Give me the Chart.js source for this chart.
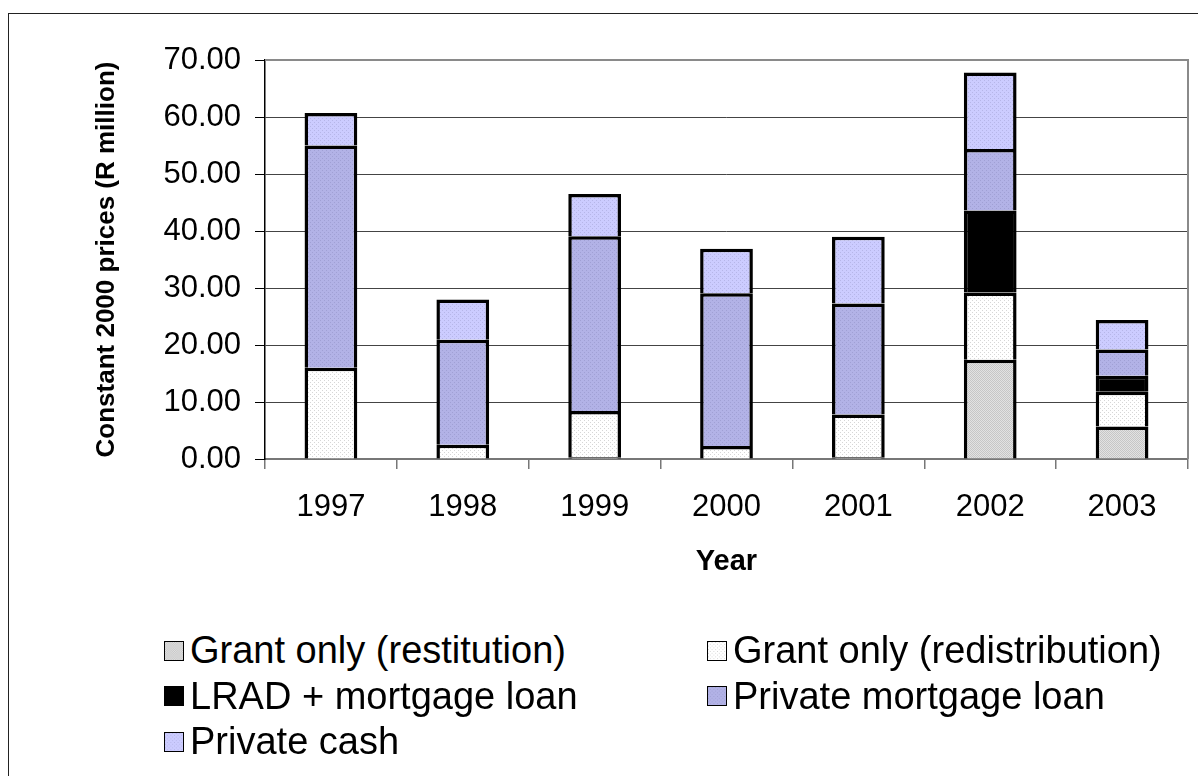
<!DOCTYPE html>
<html>
<head>
<meta charset="utf-8">
<script src="https://cdn.jsdelivr.net/npm/chart.js@4/dist/chart.umd.min.js"></script>
<style>
  html, body { margin: 0; padding: 0; background: #fff; overflow: hidden; }
  body { width: 1198px; height: 776px; position: relative; font-family: "Liberation Sans", Arial, sans-serif; }
  #frame { position: absolute; left: 8px; top: 13px; width: 1220px; height: 800px; border: 1.5px solid #222; box-sizing: border-box; }
  #wrap { position: absolute; left: 0; top: 0; width: 1198px; height: 600px; }
  #legend { position: absolute; left: 164px; top: 628px; display: grid; grid-template-columns: 543px 460px; font-size: 38px; line-height: 45.5px; color: #000; }
  .item { display: flex; align-items: center; white-space: nowrap; }
  .item canvas { width: 20px; height: 20px; margin-right: 6px; box-sizing: border-box; border: 1.5px solid #000; }
</style>
</head>
<body>
<div id="frame"></div>
<div id="wrap"><canvas id="chart"></canvas></div>
<div id="legend"></div>
<script>
const years = ["1997", "1998", "1999", "2000", "2001", "2002", "2003"];
const restitution = [0, 0, 0.3, 0, 0.3, 17.4, 5.7];
const redistribution = [16.0, 2.5, 8.1, 2.3, 7.5, 11.8, 6.1];
const lradLoan = [0, 0, 0, 0, 0, 14.4, 2.8];
const mortgageLoan = [39.0, 18.4, 30.7, 26.8, 19.5, 10.8, 4.6];
const privateCash = [5.7, 7.1, 7.4, 7.8, 11.7, 13.4, 5.2];
const yTicks = [0, 10, 20, 30, 40, 50, 60, 70];

// small dotted fills like the old office patterns
function makePattern(base, dot, dots) {
  const c = document.createElement("canvas");
  c.width = 4;
  c.height = 4;
  const ctx = c.getContext("2d");
  ctx.fillStyle = base;
  ctx.fillRect(0, 0, 4, 4);
  ctx.fillStyle = dot;
  dots.forEach(([x, y]) => ctx.fillRect(x, y, 1, 1));
  return c;
}

const checker = [[0, 0], [2, 0], [1, 1], [3, 1], [0, 2], [2, 2], [1, 3], [3, 3]];
const tiles = {
  restitution: makePattern("#e2e2e2", "#c6c6c6", checker),
  redistribution: makePattern("#ffffff", "#d6d6d6", [[0, 0], [2, 2]]),
  lrad: makePattern("#000000", "#000000", []),
  mortgage: makePattern("#b2b2e6", "#a0a0d4", [[0, 0], [2, 2]]),
  cash: makePattern("#ccccff", "#b6b6e8", [[0, 0], [2, 2]]),
};

const ctx = document.getElementById("chart").getContext("2d");
const fill = (key) => ctx.createPattern(tiles[key], "repeat");

const seriesList = [
  { label: "Grant only (restitution)", data: restitution, key: "restitution" },
  { label: "Grant only (redistribution)", data: redistribution, key: "redistribution" },
  { label: "LRAD + mortgage loan", data: lradLoan, key: "lrad" },
  { label: "Private mortgage loan", data: mortgageLoan, key: "mortgage" },
  { label: "Private cash", data: privateCash, key: "cash" },
];

const plotFrame = {
  id: "plotFrame",
  beforeDatasetsDraw(chart) {
    const { ctx, chartArea } = chart;
    ctx.save();
    ctx.strokeStyle = "#8a8a8a";
    ctx.lineWidth = 2;
    ctx.beginPath();
    ctx.moveTo(chartArea.left, chartArea.top);
    ctx.lineTo(chartArea.right, chartArea.top);
    ctx.lineTo(chartArea.right, chartArea.bottom);
    ctx.stroke();
    ctx.restore();
  },
};

new Chart(ctx, {
  type: "bar",
  data: {
    labels: years,
    datasets: seriesList.map((s) => ({
      label: s.label,
      data: s.data,
      backgroundColor: fill(s.key),
      borderColor: "#000",
      borderWidth: 3.5,
      categoryPercentage: 1,
      barPercentage: 0.4,
    })),
  },
  options: {
    responsive: true,
    maintainAspectRatio: false,
    animation: false,
    layout: { padding: { left: 0, right: 10, top: 60, bottom: 0 } },
    plugins: { legend: { display: false }, tooltip: { enabled: false } },
    scales: {
      x: {
        stacked: true,
        grid: { offset: true, drawOnChartArea: false, drawTicks: true, tickLength: 10, color: "#777", lineWidth: 1.5 },
        border: { color: "#777", width: 2 },
        ticks: { color: "#000", padding: 20, font: { family: "Liberation Sans", size: 31 } },
        title: {
          display: true,
          text: "Year",
          color: "#000",
          font: { family: "Liberation Sans", size: 29, weight: "bold" },
          padding: { top: 0, bottom: 21 },
        },
        afterFit(scale) { scale.height = 141; },
      },
      y: {
        stacked: true,
        min: 0,
        max: 70,
        afterBuildTicks(scale) { scale.ticks = yTicks.map((v) => ({ value: v })); },
        grid: { color: "#444", lineWidth: 1, tickLength: 10, tickColor: "#000" },
        border: { color: "#000", width: 1.5 },
        ticks: {
          color: "#000",
          padding: 14,
          font: { family: "Liberation Sans", size: 31 },
          callback: (v) => Number(v).toFixed(2),
        },
        title: {
          display: true,
          text: "Constant 2000 prices (R million)",
          color: "#000",
          font: { family: "Liberation Sans", size: 26, weight: "bold" },
          padding: { top: 91, bottom: 0 },
        },
        afterFit(scale) { scale.width = 265; },
      },
    },
  },
  plugins: [plotFrame],
});

// legend laid out in two columns like the original
const legend = document.getElementById("legend");
seriesList.forEach((s) => {
  const item = document.createElement("div");
  item.className = "item";
  const sw = document.createElement("canvas");
  sw.width = 20;
  sw.height = 20;
  const sctx = sw.getContext("2d");
  sctx.fillStyle = sctx.createPattern(tiles[s.key], "repeat");
  sctx.fillRect(0, 0, 20, 20);
  const txt = document.createElement("span");
  txt.textContent = s.label;
  item.appendChild(sw);
  item.appendChild(txt);
  legend.appendChild(item);
});
</script>
</body>
</html>
